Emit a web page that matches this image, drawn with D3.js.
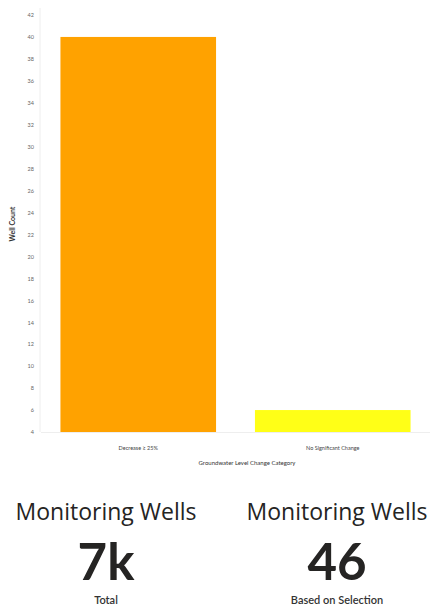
<!DOCTYPE html>
<html>
<head>
<meta charset="utf-8">
<script src="https://cdn.jsdelivr.net/npm/d3@7"></script>
<style>
  html, body { margin: 0; padding: 0; background: #fff; }
  svg { display: block; }
</style>
</head>
<body>
<svg id="chart" width="441" height="610"></svg>
<script>
// ---- data ----
const categories = ["Decrease \u2265 25%", "No Significant Change"];
const wellCounts = [40, 6];
const barColors = ["#FFA200", "#FFFF17"];
const yTicks = [4, 6, 8, 10, 12, 14, 16, 18, 20, 22, 24, 26, 28, 30, 32, 34, 36, 38, 40, 42];
const xTitle = "Groundwater Level Change Category";
const yTitle = "Well Count";
const cardTitles = ["Monitoring Wells", "Monitoring Wells"];
const cardValues = ["7k", "46"];
const cardLabels = ["Total", "Based on Selection"];

const svg = d3.select("#chart");
const font = "'Segoe UI', Lato, 'Open Sans', sans-serif";
const titleFont = "'Open Sans', 'Segoe UI', sans-serif";

const y = d3.scaleLinear().domain([4, 42]).range([432, 15]);
const x = d3.scaleBand().domain(categories).range([41, 430]).paddingInner(0.2).paddingOuter(0.1);

// axis lines (faint)
svg.append("line").attr("x1", 40).attr("x2", 40).attr("y1", 8).attr("y2", 432)
  .attr("stroke", "#eeeeee").attr("stroke-width", 1);
svg.append("line").attr("x1", 41).attr("x2", 430).attr("y1", 432.5).attr("y2", 432.5)
  .attr("stroke", "#eeeeee").attr("stroke-width", 1);

// y axis
const yAxis = d3.axisLeft(y).tickValues(yTicks).tickSize(0).tickPadding(6).tickFormat(d3.format("d"));
const gy = svg.append("g").attr("transform", "translate(40,0)").call(yAxis);
gy.select(".domain").remove();
gy.selectAll("text").attr("font-family", font).attr("font-size", 5.5).attr("fill", "#666");

// bars
svg.append("g").selectAll("rect").data(categories).join("rect")
  .attr("x", d => x(d))
  .attr("width", x.bandwidth())
  .attr("y", (d, i) => y(wellCounts[i]))
  .attr("height", (d, i) => y(4) - y(wellCounts[i]))
  .attr("fill", (d, i) => barColors[i]);

// x axis
const xAxis = d3.axisBottom(x).tickSize(0).tickPadding(14);
const gx = svg.append("g").attr("transform", "translate(0,432)").call(xAxis);
gx.select(".domain").remove();
gx.selectAll("text").attr("font-family", font).attr("font-size", 5.5).attr("fill", "#444");

// axis titles
svg.append("text").attr("x", 247).attr("y", 465).attr("text-anchor", "middle")
  .attr("font-family", font).attr("font-size", 6).attr("fill", "#333").text(xTitle);
svg.append("text").attr("transform", "translate(15,224) rotate(-90)").attr("text-anchor", "middle")
  .attr("font-family", font).attr("font-size", 7).attr("font-weight", "bold").attr("fill", "#333").text(yTitle);

// cards
const cardX = [106, 337];
cardX.forEach((cx, i) => {
  svg.append("text").attr("x", cx).attr("y", 520).attr("text-anchor", "middle")
    .attr("font-family", titleFont).attr("font-size", 23).attr("fill", "#252423").text(cardTitles[i]);
  svg.append("text").attr("x", cx).attr("y", 580).attr("text-anchor", "middle")
    .attr("font-family", font).attr("font-size", 51).attr("font-weight", "bold").attr("fill", "#252423").text(cardValues[i]);
  svg.append("text").attr("x", cx).attr("y", 604).attr("text-anchor", "middle")
    .attr("font-family", font).attr("font-size", 11).attr("font-weight", 600).attr("fill", "#333").text(cardLabels[i]);
});
</script>
</body>
</html>
